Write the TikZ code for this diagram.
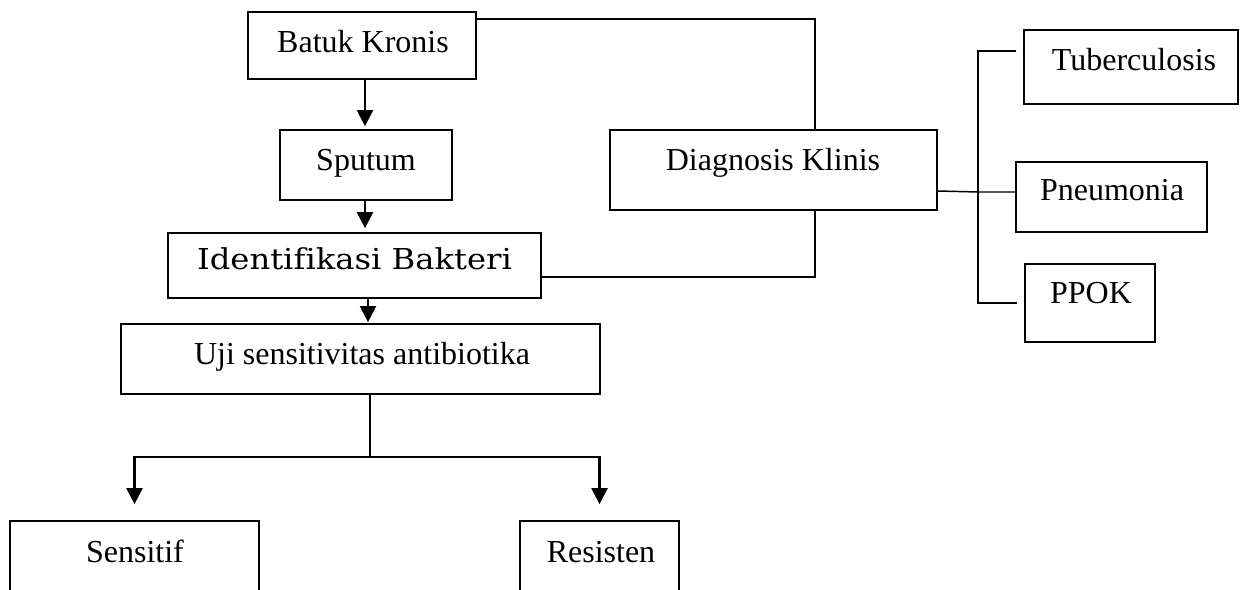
\documentclass[tikz,border=0pt]{standalone}
\usepackage{fontspec}
\setmainfont{Liberation Serif}
\newfontfamily\idfont[FakeStretch=1.12,Ligatures=CommonOff]{DejaVu Serif}
\usetikzlibrary{arrows.meta,calc}
\begin{document}
\begin{tikzpicture}[x=0.75pt,y=-0.75pt,
  bx/.style={draw, line width=1.3pt, inner sep=0pt},
  lbl/.style={anchor=base, inner sep=0pt, font=\fontsize{24}{28}\selectfont},
  ln/.style={line width=1.1pt},
  arr/.style={line width=1.7pt, -{Triangle[length=12pt,width=12pt]}}]
\clip (0,0) rectangle (1244,589);
\fill[white] (0,0) rectangle (1244,589);
% boxes
\node[bx, minimum width=171pt, minimum height=50.25pt] (bk) at (362,45.5) {};
\node[bx, minimum width=129pt, minimum height=52.5pt] (sp) at (366,165) {};
\node[bx, minimum width=279.75pt, minimum height=48.75pt] (id) at (354.5,265.5) {};
\node[bx, minimum width=359.25pt, minimum height=52.5pt] (uj) at (360.5,359) {};
\node[bx, minimum width=186.75pt, minimum height=59.25pt] (se) at (134.5,560.5) {};
\node[bx, minimum width=119.25pt, minimum height=59.25pt] (re) at (599.5,560.5) {};
\node[bx, minimum width=245.25pt, minimum height=60pt] (dk) at (773.5,170) {};
\node[bx, minimum width=160.5pt, minimum height=55.5pt] (tb) at (1131,67) {};
\node[bx, minimum width=143.25pt, minimum height=52.5pt] (pn) at (1111.5,197) {};
\node[bx, minimum width=97.5pt, minimum height=58.5pt] (pp) at (1090,303) {};
% labels
\node[lbl] (bkT) at (363,52) {Batuk Kronis};
\node[lbl] (spT) at (366,170) {Sputum};
\node[lbl, font=\idfont\fontsize{21.6}{26}\selectfont] (idT) at (354.5,269) {Identifikasi Bakteri};
\node[lbl] (ujT) at (362,364) {Uji sensitivitas antibiotika};
\node[lbl] (dkT) at (773,170) {Diagnosis Klinis};
\node[lbl] (tbT) at (1134,70) {Tuberculosis};
\node[lbl] (pnT) at (1112,200) {Pneumonia};
\node[lbl] (ppT) at (1091,303) {PPOK};
\node[lbl] (seT) at (135,562) {Sensitif};
\node[lbl] (reT) at (601,562) {Resisten};
% arrows down the left column
\draw[arr] ($(bk.south)+(3,0)$) -- ($(sp.north)+(-1,-3)$);
\draw[arr] ($(sp.south)+(-1,0)$) -- ($(id.north)+(10.5,-4)$);
\draw[arr] ($(id.south)+(13.5,0)$) -- ($(uj.north)+(7.5,-1)$);
% links to Diagnosis Klinis
\draw[ln] ($(bk.north east)+(0,8)$) -| ($(dk.north)+(41.5,0)$);
\draw[ln] ($(dk.south)+(41.5,0)$) |- ($(id.south east)+(0,-22)$);
% bracket to diagnoses
\coordinate (brm) at (978,192);
\draw[ln] ($(dk.east)+(0,21)$) -- (brm) -- ($(pn.west)+(0,-5)$);
\draw[ln] ($(tb.west)+(-7,-16)$) -| (brm) |- ($(pp.west)+(-7,0)$);
% split to results
\coordinate (spl) at (370,457);
\draw[ln] ($(uj.south)+(9.5,0)$) -- (spl);
\draw[arr] (spl) -| ($(se.north)+(0,-16)$);
\draw[arr] (spl) -| ($(re.north)+(0,-16)$);
\end{tikzpicture}
\end{document}
